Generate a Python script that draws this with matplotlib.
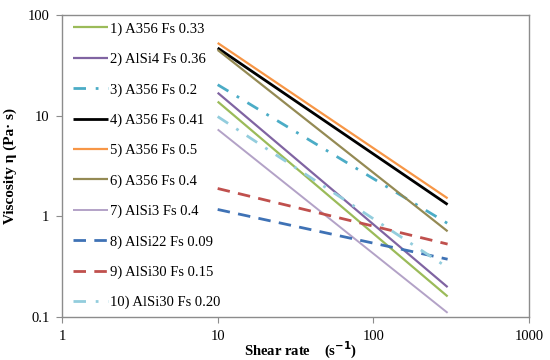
import matplotlib
matplotlib.use("Agg")
import matplotlib.pyplot as plt

plt.rcParams['font.family'] = ['Liberation Serif', 'DejaVu Serif']

labels = ["1) A356 Fs 0.33", "2) AlSi4 Fs 0.36", "3) A356 Fs 0.2", "4) A356 Fs 0.41",
          "5) A356 Fs 0.5", "6) A356 Fs 0.4", "7) AlSi3 Fs 0.4", "8) AlSi22 Fs 0.09",
          "9) AlSi30 Fs 0.15", "10) AlSi30 Fs 0.20"]
shear = [10, 300]
visc_start = [13.8, 16.9, 20.3, 47.0, 52.8, 45.0, 7.3, 1.17, 1.89, 9.8]
visc_end = [0.16, 0.198, 0.85, 1.31, 1.51, 0.71, 0.11, 0.375, 0.53, 0.31]

colors = ["#9BBB59", "#8064A2", "#4BACC6", "#000000", "#F79646", "#948A54",
          "#B3A2C7", "#3F72B5", "#C0504D", "#93CDDD"]
styles = ["solid", "solid", "dashdot", "solid", "solid", "solid", "solid",
          "dashed", "dashed", "dashdot"]
widths = [1.6, 1.6, 2.0, 2.0, 1.6, 1.6, 1.4, 2.0, 2.0, 2.0]

fig = plt.figure(figsize=(5.5, 3.6), dpi=100)
ax = fig.add_axes([62/550, 1-317/360, (529-62)/550, (317-15)/360])

for i in range(len(labels)):
    ls = styles[i]
    line, = ax.plot(shear, [visc_start[i], visc_end[i]], color=colors[i],
                    lw=widths[i], label=labels[i], solid_capstyle='butt')
    if ls == "dashed":
        line.set_dashes([4.5, 3])
    elif ls == "dashdot":
        line.set_dashes([4.5, 3.5, 1, 3.5])

ax.set_xscale('log')
ax.set_yscale('log')
ax.set_xlim(1, 1000)
ax.set_ylim(0.1, 100)
ax.set_xticks([1, 10, 100, 1000])
ax.set_xticklabels(["1", "10", "100", "1000"])
ax.set_yticks([0.1, 1, 10, 100])
ax.set_yticklabels(["0.1", "1", "10", "100"])
ax.minorticks_off()
for s in ax.spines.values():
    s.set_color('#8C8C8C')
    s.set_linewidth(1.0)
ax.tick_params(axis='both', which='major', length=4, color='#8C8C8C', direction='out',
               labelsize=10.5, pad=5)

ax.set_ylabel("Viscosity η (Pa· s)", fontsize=11, fontweight='bold', labelpad=8)
ax.set_xlabel("Shear rate    (s$^{\\mathbf{-1}}$)", fontsize=10.5, fontweight='bold')
ax.xaxis.set_label_coords(0.51, -0.075)

leg = ax.legend(loc='upper left', bbox_to_anchor=(0.005, 1.005), frameon=False,
                fontsize=10.5, handlelength=2.4, handletextpad=0.15, labelspacing=1.16,
                borderaxespad=0.2)

fig.savefig("out.png", dpi=100)
